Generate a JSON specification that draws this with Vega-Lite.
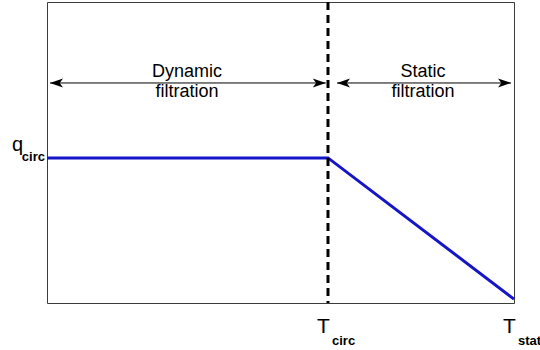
{
  "$schema": "https://vega.github.io/schema/vega-lite/v6.json",
  "width": 467,
  "height": 301,
  "autosize": {"type": "none"},
  "padding": {"left": 47, "top": 2, "right": 26, "bottom": 47},
  "background": "white",
  "config": {
    "view": {"stroke": "#3c3c3c", "strokeWidth": 1},
    "font": "Liberation Sans",
    "text": {"font": "Liberation Sans", "color": "black"}
  },
  "layer": [
    {
      "data": {"values": [
        {"t": 0, "q": 0.482},
        {"t": 0.6017, "q": 0.482},
        {"t": 1, "q": 0.013}
      ]},
      "mark": {"type": "line", "color": "#1414c8", "strokeWidth": 3},
      "encoding": {
        "x": {"field": "t", "type": "quantitative", "scale": {"domain": [0, 1], "nice": false, "zero": false}, "axis": null},
        "y": {"field": "q", "type": "quantitative", "scale": {"domain": [0, 1], "nice": false, "zero": false}, "axis": null}
      }
    },
    {
      "data": {"values": [{"t": 0.6017}]},
      "mark": {"type": "rule", "color": "black", "strokeWidth": 3, "strokeDash": [8, 5]},
      "encoding": {
        "x": {"field": "t", "type": "quantitative"}
      }
    },
    {
      "data": {"values": [
        {"a": 0.0064, "b": 0.597, "y": 0.731},
        {"a": 0.621, "b": 0.9936, "y": 0.731}
      ]},
      "layer": [
        {
          "mark": {"type": "rule", "color": "black", "strokeWidth": 1},
          "encoding": {
            "x": {"field": "a", "type": "quantitative"},
            "x2": {"field": "b"},
            "y": {"field": "y", "type": "quantitative"}
          }
        },
        {
          "mark": {"type": "point", "shape": "M0,0 L2,-0.7 L1.5,0 L2,0.7 Z", "size": 169, "filled": true, "color": "black", "opacity": 1},
          "encoding": {
            "x": {"field": "a", "type": "quantitative"},
            "y": {"field": "y", "type": "quantitative"}
          }
        },
        {
          "mark": {"type": "point", "shape": "M0,0 L-2,-0.7 L-1.5,0 L-2,0.7 Z", "size": 169, "filled": true, "color": "black", "opacity": 1},
          "encoding": {
            "x": {"field": "b", "type": "quantitative"},
            "y": {"field": "y", "type": "quantitative"}
          }
        }
      ]
    },
    {
      "data": {"values": [
        {"t": 0.300, "y": 0.751, "label": "Dynamic\nfiltration"},
        {"t": 0.805, "y": 0.751, "label": "Static\nfiltration"}
      ]},
      "mark": {"type": "text", "fontSize": 18, "align": "center", "baseline": "alphabetic", "lineBreak": "\n", "lineHeight": 20},
      "encoding": {
        "x": {"field": "t", "type": "quantitative"},
        "y": {"field": "y", "type": "quantitative"},
        "text": {"field": "label"}
      }
    },
    {
      "data": {"values": [{"t": 0, "q": 0.482, "m": "q", "s": "circ"}]},
      "layer": [
        {
          "mark": {"type": "text", "fontSize": 20, "align": "right", "baseline": "alphabetic", "dx": -24, "dy": -7},
          "encoding": {
            "x": {"field": "t", "type": "quantitative"},
            "y": {"field": "q", "type": "quantitative"},
            "text": {"field": "m"}
          }
        },
        {
          "mark": {"type": "text", "fontSize": 13, "fontWeight": "bold", "align": "right", "baseline": "alphabetic", "dx": -2, "dy": 3},
          "encoding": {
            "x": {"field": "t", "type": "quantitative"},
            "y": {"field": "q", "type": "quantitative"},
            "text": {"field": "s"}
          }
        }
      ]
    },
    {
      "data": {"values": [
        {"t": 0.6017, "q": 0, "m": "T", "s": "circ"},
        {"t": 1, "q": 0, "m": "T", "s": "stat"}
      ]},
      "layer": [
        {
          "mark": {"type": "text", "fontSize": 21, "align": "center", "baseline": "alphabetic", "dx": -4.5, "dy": 30},
          "encoding": {
            "x": {"field": "t", "type": "quantitative"},
            "y": {"field": "q", "type": "quantitative"},
            "text": {"field": "m"}
          }
        },
        {
          "mark": {"type": "text", "fontSize": 13, "fontWeight": "bold", "align": "left", "baseline": "alphabetic", "dx": 4, "dy": 42},
          "encoding": {
            "x": {"field": "t", "type": "quantitative"},
            "y": {"field": "q", "type": "quantitative"},
            "text": {"field": "s"}
          }
        }
      ]
    }
  ]
}
